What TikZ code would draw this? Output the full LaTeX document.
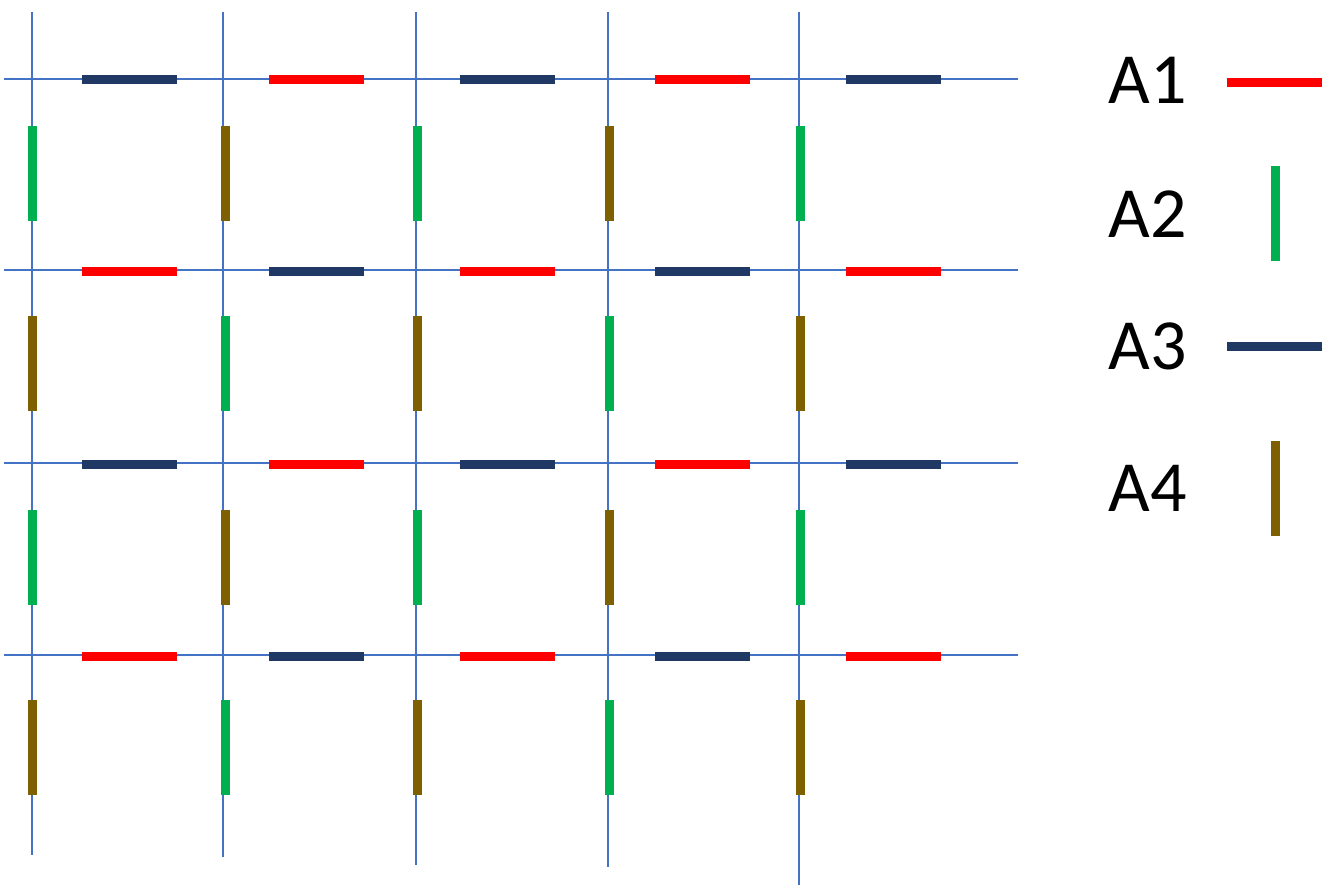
\documentclass[tikz,border=0pt]{standalone}
\usepackage{fontspec}
\setmainfont{Carlito}
\definecolor{cred}{HTML}{FF0000}
\definecolor{cgreen}{HTML}{00B050}
\definecolor{cnavy}{HTML}{203864}
\definecolor{cbrown}{HTML}{7F6000}
\definecolor{cgrid}{HTML}{4472C4}
\begin{document}
\begin{tikzpicture}[x=1pt,y=-1pt,
  gridline/.style={cgrid,line width=1.5pt},
  bar/.style={line width=9pt},
  lbl/.style={font=\fontsize{72}{72}\selectfont,anchor=center,inner sep=0pt}]
\useasboundingbox (0,0) rectangle (1329,889);
% grid
\foreach \x/\e in {32/855,223/857,416/865,608/867,799/885}
  \draw[gridline] (\x,12) -- (\x,\e);
\foreach \y in {79,270,463,655}
  \draw[gridline] (4,\y) -- (1018,\y);
% horizontal bars
\foreach \y/\a/\b in {79/cnavy/cred,464/cnavy/cred,271/cred/cnavy,656/cred/cnavy}{
  \draw[bar,\a] (82,\y) -- (177,\y);
  \draw[bar,\b] (269,\y) -- (364,\y);
  \draw[bar,\a] (460,\y) -- (555,\y);
  \draw[bar,\b] (655,\y) -- (750,\y);
  \draw[bar,\a] (846,\y) -- (941,\y);
}
% vertical bars
\foreach \y/\a/\b in {126/cgreen/cbrown,510/cgreen/cbrown,316/cbrown/cgreen,700/cbrown/cgreen}{
  \draw[bar,\a] (32,\y) -- (32,\y+95);
  \draw[bar,\b] (225,\y) -- (225,\y+95);
  \draw[bar,\a] (417,\y) -- (417,\y+95);
  \draw[bar,\b] (609,\y) -- (609,\y+95);
  \draw[bar,\a] (800,\y) -- (800,\y+95);
}
% legend
\node[lbl] (l1) at (1148,80) {A1};
\node[lbl] (l2) at (1148,214) {A2};
\node[lbl] (l3) at (1148,346) {A3};
\node[lbl] (l4) at (1148,488) {A4};
\draw[bar,cred] (1227,82) -- (1322,82);
\draw[bar,cgreen] (1275,166) -- (1275,261);
\draw[bar,cnavy] (1227,346) -- (1322,346);
\draw[bar,cbrown] (1275,441) -- (1275,536);
\end{tikzpicture}
\end{document}
